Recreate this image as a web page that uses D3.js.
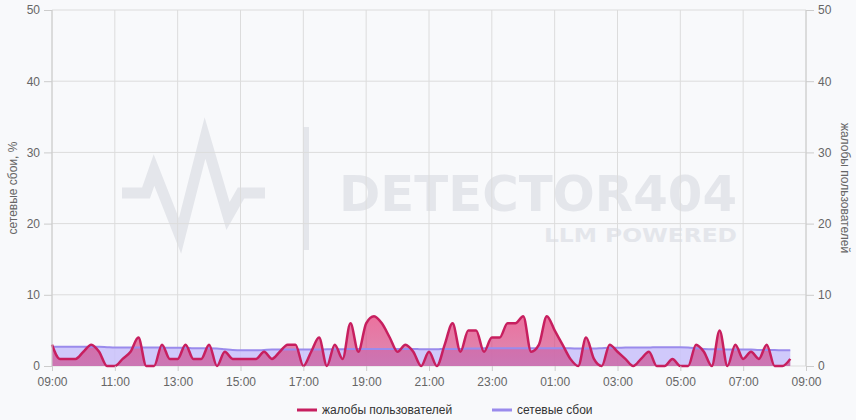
<!DOCTYPE html>
<html>
<head>
<meta charset="utf-8">
<script src="https://cdn.jsdelivr.net/npm/d3@7"></script>
<style>
  body { margin: 0; background: #f8f9fb; }
  svg { display: block; font-family: "Liberation Sans", Arial, sans-serif; }
  .axis text { fill: #666; font-size: 12px; }
  .axis path, .axis line { stroke: #ccc; }
</style>
</head>
<body>
<div id="chart"></div>
<script>
// 15-minute samples, 09:00 .. 08:30 next day
var startTime = "2024-03-01T09:00:00";
var stepMinutes = 15;

// complaints (right axis)
var complaints = [
  3, 1, 1, 1, 2, 3, 2, 0, 0, 1, 2, 4, 0, 0, 3, 1,
  1, 3, 1, 1, 3, 0, 2, 1, 1, 1, 1, 2, 1, 2, 3, 3,
  0, 2, 4, 0, 3, 1, 6, 2, 6, 7, 6, 4, 2, 3, 2, 0,
  2, 0, 3, 6, 2, 5, 5, 2, 4, 4, 6, 6, 7, 2, 3, 7,
  5, 3, 1, 0, 4, 1, 0, 3, 2, 1, 0, 1, 2, 0, 0, 1,
  0, 0, 3, 2, 0, 5, 0, 3, 1, 2, 1, 3, 0, 0, 1
];

// network failures, % (left axis)
var network = [
  2.7, 2.7, 2.7, 2.7, 2.7, 2.7, 2.7, 2.65, 2.6, 2.6, 2.6, 2.6, 2.6, 2.6, 2.6, 2.55,
  2.55, 2.55, 2.5, 2.5, 2.5, 2.45, 2.35, 2.25, 2.2, 2.2, 2.2, 2.25, 2.3, 2.3, 2.3, 2.3,
  2.3, 2.3, 2.3, 2.35, 2.35, 2.35, 2.4, 2.4, 2.4, 2.4, 2.4, 2.4, 2.4, 2.4, 2.4, 2.35,
  2.35, 2.35, 2.4, 2.4, 2.4, 2.45, 2.45, 2.5, 2.5, 2.5, 2.5, 2.5, 2.5, 2.5, 2.5, 2.5,
  2.5, 2.5, 2.5, 2.45, 2.45, 2.45, 2.5, 2.55, 2.55, 2.6, 2.6, 2.6, 2.6, 2.65, 2.65, 2.65,
  2.65, 2.6, 2.5, 2.4, 2.35, 2.35, 2.3, 2.3, 2.3, 2.3, 2.25, 2.25, 2.25, 2.2, 2.2
];

var yTicks = [0, 10, 20, 30, 40, 50];
var seriesNames = ["жалобы пользователей", "сетевые сбои"];
var leftTitle = "сетевые сбои, %";
var rightTitle = "жалобы пользователей";

var svgWidth = 856;
var svgHeight = 420;
var margin = { top: 10, right: 50, bottom: 54, left: 52 };
var chartWidth = svgWidth - margin.left - margin.right;
var chartHeight = svgHeight - margin.top - margin.bottom;

var t0 = new Date(startTime);
var data = complaints.map(function(c, i) {
  return { time: new Date(t0.getTime() + i * stepMinutes * 60000), complaints: c, network: network[i] };
});

var svg = d3.select("#chart")
  .append("svg")
  .attr("width", svgWidth)
  .attr("height", svgHeight);

// gradient for complaints fill
var defs = svg.append("defs");
var grad = defs.append("linearGradient")
  .attr("id", "pinkFill")
  .attr("x1", 0).attr("y1", 0).attr("x2", 0).attr("y2", 1);
grad.append("stop").attr("offset", "0%").attr("stop-color", "#e8457f").attr("stop-opacity", 0.75);
grad.append("stop").attr("offset", "100%").attr("stop-color", "#c8337a").attr("stop-opacity", 0.55);

var chartGroup = svg.append("g")
  .attr("transform", `translate(${margin.left}, ${margin.top})`);

var xScale = d3.scaleTime()
  .domain([t0, new Date(t0.getTime() + 24 * 3600000)])
  .range([0, chartWidth]);

var yLeft = d3.scaleLinear().domain([0, 50]).range([chartHeight, 0]);
var yRight = d3.scaleLinear().domain([0, 50]).range([chartHeight, 0]);

var xTicks = d3.range(0, 13).map(function(i) { return new Date(t0.getTime() + i * 2 * 3600000); });

// watermark
var wm = chartGroup.append("g").attr("transform", `translate(${-margin.left}, ${-margin.top})`);
wm.append("path")
  .attr("d", "M122,193 L146,193 L154,170 L180,236 L205,138 L228,216 L241,193 L265,193")
  .attr("fill", "none")
  .attr("stroke", "#e4e6eb")
  .attr("stroke-width", 11)
  .attr("stroke-linejoin", "miter");
wm.append("rect").attr("x", 303).attr("y", 127).attr("width", 6).attr("height", 123).attr("fill", "#e4e6eb");
wm.append("text")
  .attr("x", 737).attr("y", 211)
  .attr("text-anchor", "end")
  .style("font-family", "'DejaVu Sans', sans-serif")
  .style("font-weight", "bold")
  .style("font-size", "50px")
  .attr("textLength", 398)
  .attr("lengthAdjust", "spacingAndGlyphs")
  .attr("fill", "#e4e6eb")
  .text("DETECTOR404");
wm.append("text")
  .attr("x", 737).attr("y", 242)
  .attr("text-anchor", "end")
  .style("font-family", "'DejaVu Sans', sans-serif")
  .style("font-weight", "bold")
  .style("font-size", "20px")
  .attr("textLength", 193)
  .attr("lengthAdjust", "spacingAndGlyphs")
  .attr("fill", "#e4e6eb")
  .text("LLM POWERED");

// grid
chartGroup.append("g")
  .selectAll("line")
  .data(yTicks)
  .join("line")
  .attr("x1", 0).attr("x2", chartWidth)
  .attr("y1", d => yLeft(d)).attr("y2", d => yLeft(d))
  .attr("stroke", "#dcdcdc");

chartGroup.append("g")
  .selectAll("line")
  .data(xTicks)
  .join("line")
  .attr("x1", d => xScale(d)).attr("x2", d => xScale(d))
  .attr("y1", 0).attr("y2", chartHeight)
  .attr("stroke", "#dcdcdc");

// network area + line
var netArea = d3.area()
  .curve(d3.curveMonotoneX)
  .x(d => xScale(d.time))
  .y0(chartHeight)
  .y1(d => yLeft(d.network));
var netLine = d3.line()
  .curve(d3.curveMonotoneX)
  .x(d => xScale(d.time))
  .y(d => yLeft(d.network));

chartGroup.append("path")
  .datum(data)
  .attr("d", netArea)
  .attr("fill", "#c9c1fa")
  .attr("fill-opacity", 0.85);

// complaints area + line
var compArea = d3.area()
  .curve(d3.curveMonotoneX)
  .x(d => xScale(d.time))
  .y0(chartHeight)
  .y1(d => yRight(d.complaints));
var compLine = d3.line()
  .curve(d3.curveMonotoneX)
  .x(d => xScale(d.time))
  .y(d => yRight(d.complaints));

chartGroup.append("path")
  .datum(data)
  .attr("d", compArea)
  .attr("fill", "url(#pinkFill)");

chartGroup.append("path")
  .datum(data)
  .attr("d", netLine)
  .attr("fill", "none")
  .attr("stroke", "#9a8bec")
  .attr("stroke-width", 2);

chartGroup.append("path")
  .datum(data)
  .attr("d", compLine)
  .attr("fill", "none")
  .attr("stroke", "#c71f5f")
  .attr("stroke-width", 2.5);

// axes
var bottomAxis = d3.axisBottom(xScale)
  .tickValues(xTicks)
  .tickFormat(d3.timeFormat("%H:%M"))
  .tickSize(5)
  .tickPadding(6);
var leftAxis = d3.axisLeft(yLeft).tickValues(yTicks).tickSize(8).tickPadding(4);
var rightAxis = d3.axisRight(yRight).tickValues(yTicks).tickSize(8).tickPadding(4);

chartGroup.append("g")
  .classed("axis", true)
  .attr("transform", "translate(0, " + chartHeight + ")")
  .call(bottomAxis)
  .call(g => g.select(".domain").remove());

chartGroup.append("g")
  .classed("axis", true)
  .call(leftAxis)
  .call(g => g.select(".domain").attr("d", `M0,0V${chartHeight}`));

chartGroup.append("g")
  .classed("axis", true)
  .attr("transform", `translate(${chartWidth}, 0)`)
  .call(rightAxis)
  .call(g => g.select(".domain").attr("d", `M0,0V${chartHeight}`));

// axis titles
svg.append("text")
  .attr("transform", `translate(17, ${margin.top + chartHeight / 2}) rotate(-90)`)
  .attr("text-anchor", "middle")
  .attr("fill", "#666")
  .style("font-size", "12px")
  .text(leftTitle);

svg.append("text")
  .attr("transform", `translate(841, ${margin.top + chartHeight / 2}) rotate(90)`)
  .attr("text-anchor", "middle")
  .attr("fill", "#666")
  .style("font-size", "12px")
  .text(rightTitle);

// legend
var legendColors = ["#c71f5f", "#9a8bec"];
var legendX = [297, 492];
var legend = svg.append("g");
seriesNames.forEach(function(name, i) {
  legend.append("line")
    .attr("x1", legendX[i]).attr("x2", legendX[i] + 20)
    .attr("y1", 410).attr("y2", 410)
    .attr("stroke", legendColors[i])
    .attr("stroke-width", 3);
  legend.append("text")
    .attr("x", legendX[i] + 25).attr("y", 414)
    .attr("fill", "#333")
    .style("font-size", "12px")
    .text(name);
});
</script>
</body>
</html>
